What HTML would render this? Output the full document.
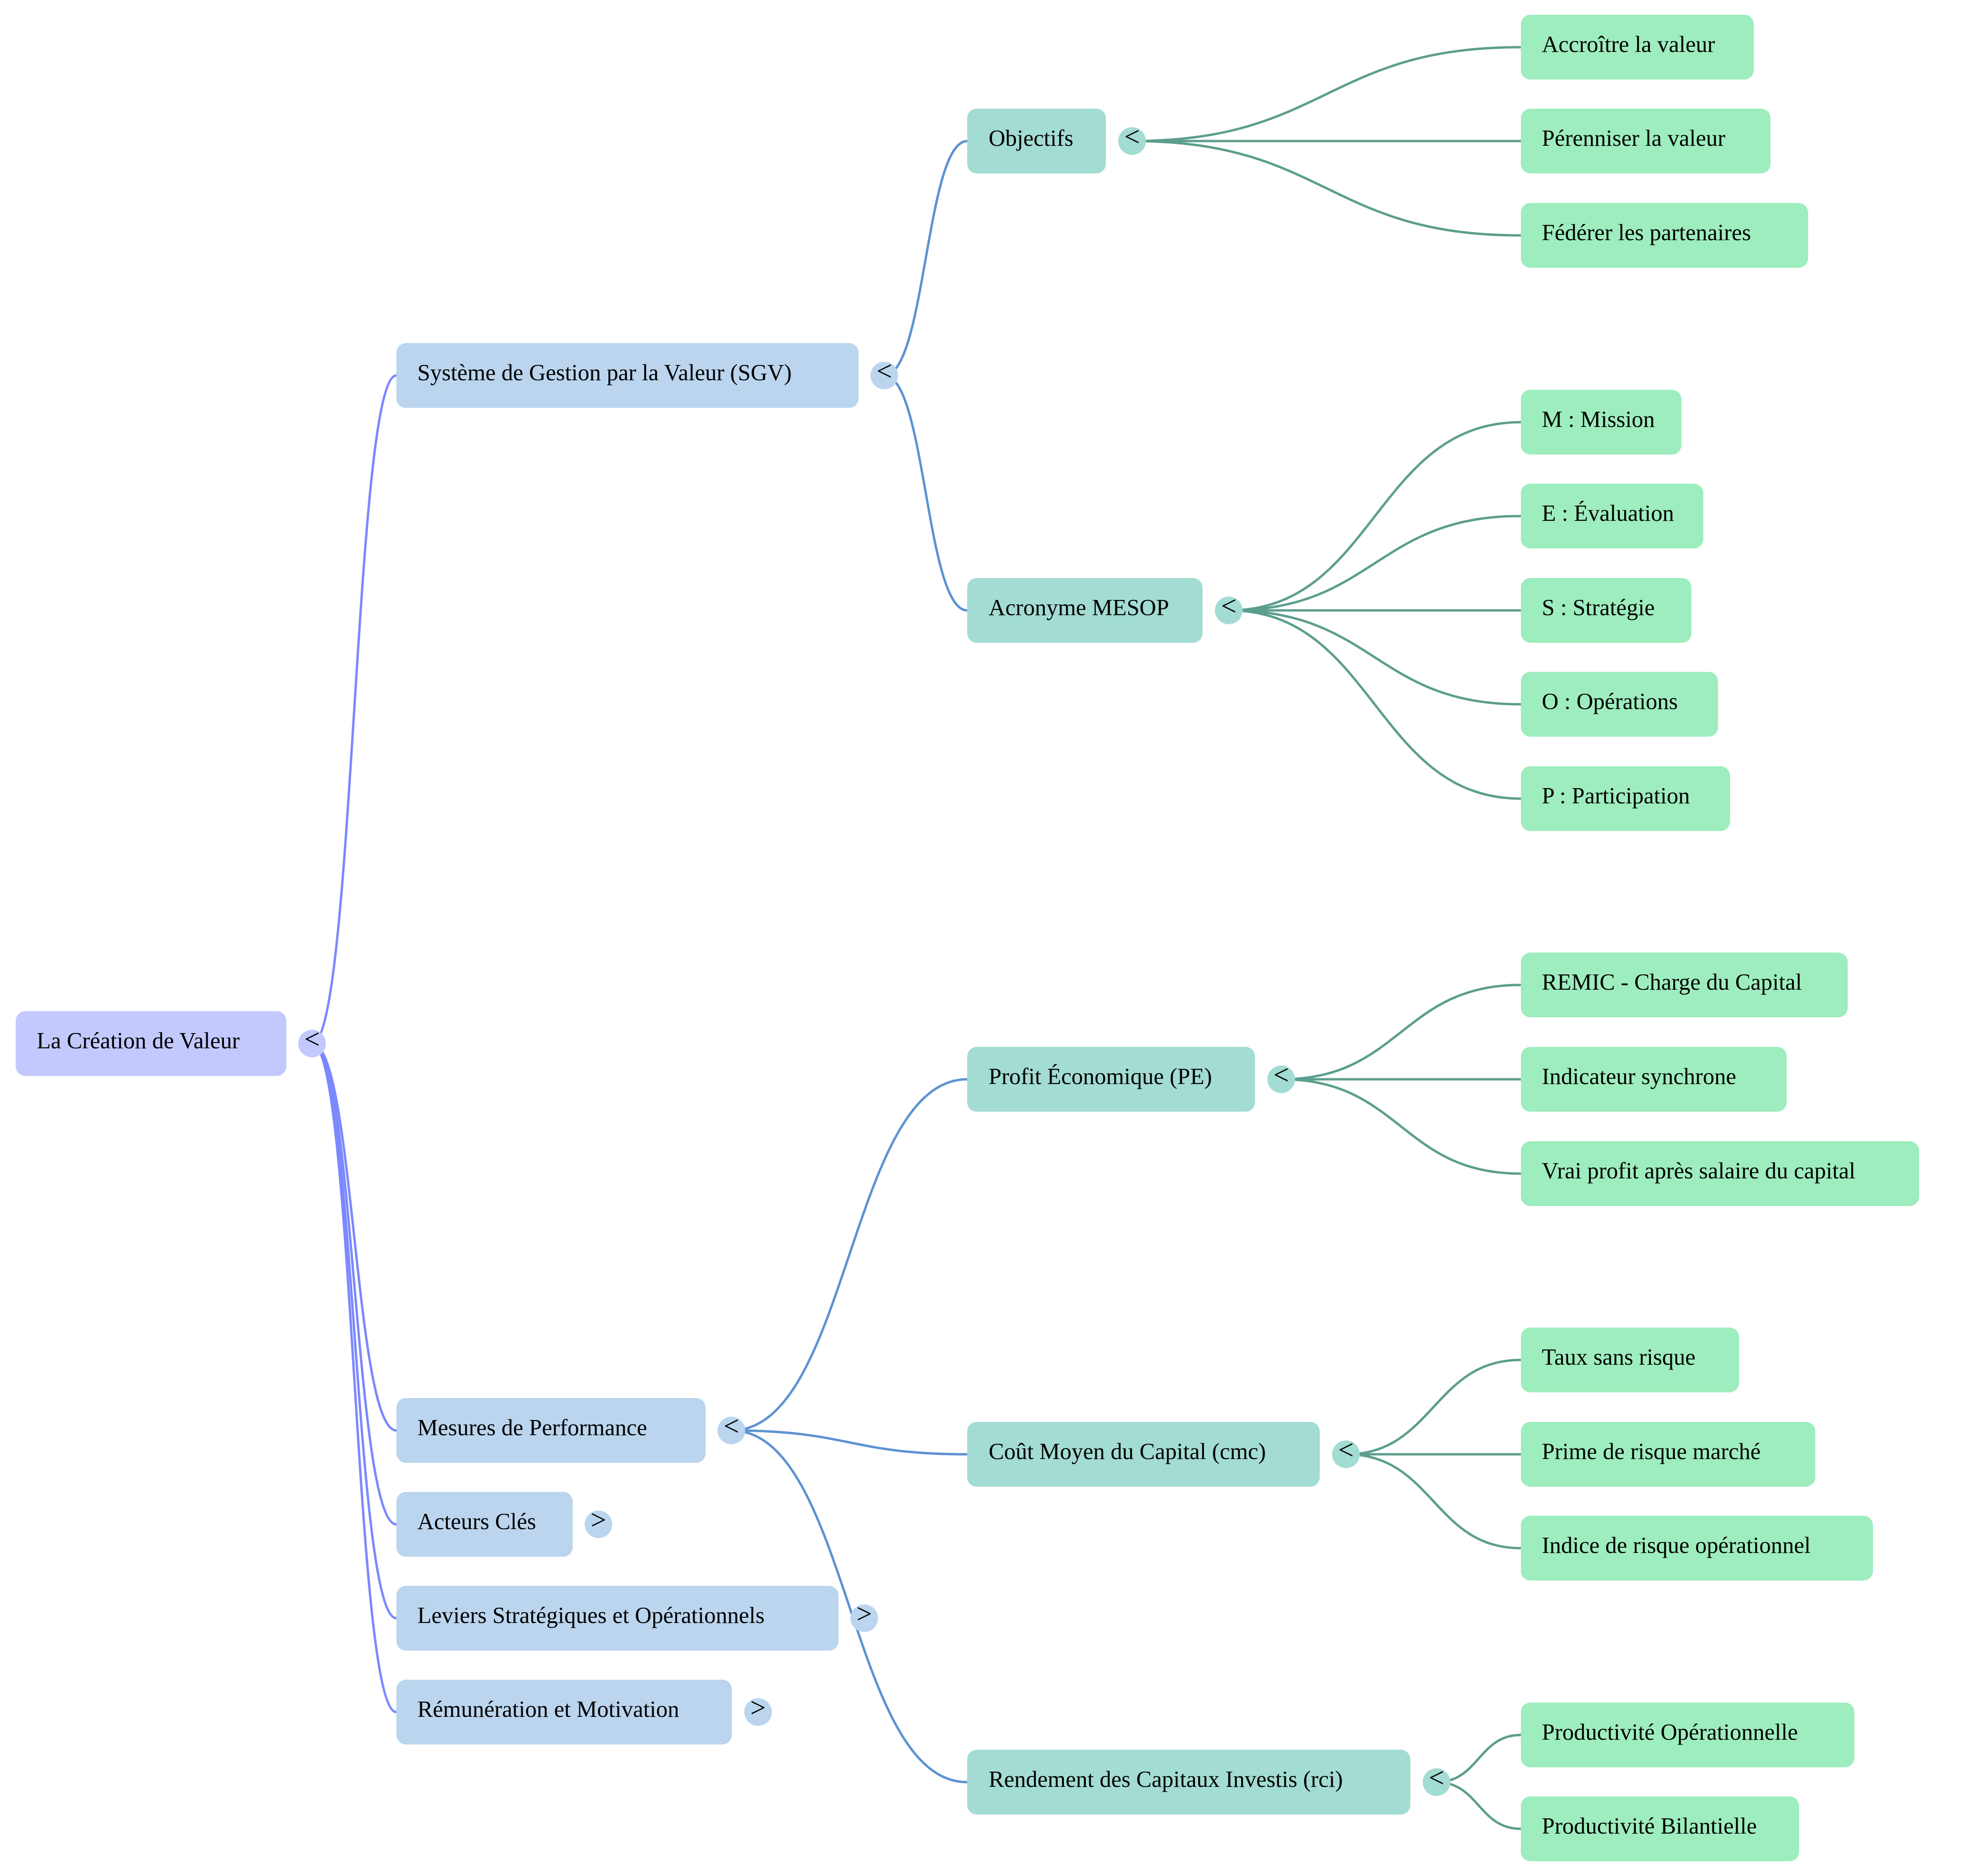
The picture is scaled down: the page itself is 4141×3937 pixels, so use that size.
<!DOCTYPE html>
<html>
<head>
<meta charset="utf-8">
<style>
html,body{margin:0;padding:0;background:#fff;}
svg{display:block;}
text{font-family:"Liberation Serif","Times New Roman",serif;font-size:48.5px;fill:#000;}
.t{font-size:58px;}
</style>
</head>
<body>
<svg width="4141" height="3937" viewBox="0 0 4141 3937" xmlns="http://www.w3.org/2000/svg">
<rect x="0" y="0" width="4141" height="3937" fill="#ffffff"/>

<!-- Root edges -->
<g fill="none" stroke="#7b88ff" stroke-width="5">
<path d="M655 2190 C743.5 2190,743.5 788,832 788"/>
<path d="M655 2190 C743.5 2190,743.5 3002,832 3002"/>
<path d="M655 2190 C743.5 2190,743.5 3199,832 3199"/>
<path d="M655 2190 C743.5 2190,743.5 3396,832 3396"/>
<path d="M655 2190 C743.5 2190,743.5 3593,832 3593"/>
</g>

<!-- Level 1 -> Level 2 edges -->
<g fill="none" stroke="#5d92d2" stroke-width="5">
<path d="M1856 788 C1943 788,1943 296,2030 296"/>
<path d="M1856 788 C1943 788,1943 1281,2030 1281"/>
<path d="M1535 3002 C1782.5 3002,1782.5 2265,2030 2265"/>
<path d="M1535 3002 C1782.5 3002,1782.5 3052,2030 3052"/>
<path d="M1535 3002 C1782.5 3002,1782.5 3740,2030 3740"/>
</g>

<!-- Level 2 -> Level 3 edges -->
<g fill="none" stroke="#5c9e8e" stroke-width="5">
<path d="M2376 296 C2784 296,2784 99,3192 99"/>
<path d="M2376 296 C2784 296,2784 296,3192 296"/>
<path d="M2376 296 C2784 296,2784 494,3192 494"/>

<path d="M2579 1281 C2885.5 1281,2885.5 886,3192 886"/>
<path d="M2579 1281 C2885.5 1281,2885.5 1083,3192 1083"/>
<path d="M2579 1281 C2885.5 1281,2885.5 1281,3192 1281"/>
<path d="M2579 1281 C2885.5 1281,2885.5 1478,3192 1478"/>
<path d="M2579 1281 C2885.5 1281,2885.5 1676,3192 1676"/>

<path d="M2689 2265 C2940.5 2265,2940.5 2067,3192 2067"/>
<path d="M2689 2265 C2940.5 2265,2940.5 2265,3192 2265"/>
<path d="M2689 2265 C2940.5 2265,2940.5 2463,3192 2463"/>

<path d="M2825 3052 C3008.5 3052,3008.5 2854,3192 2854"/>
<path d="M2825 3052 C3008.5 3052,3008.5 3052,3192 3052"/>
<path d="M2825 3052 C3008.5 3052,3008.5 3249,3192 3249"/>

<path d="M3015 3740 C3103.5 3740,3103.5 3641,3192 3641"/>
<path d="M3015 3740 C3103.5 3740,3103.5 3838,3192 3838"/>
</g>

<!-- Root node -->
<rect x="33" y="2122" width="568" height="136" rx="20" fill="#c3c9fe"/>
<text x="77" y="2200">La Création de Valeur</text>
<circle cx="655" cy="2190" r="29" fill="#c3c9fe"/>
<text class="t" x="655" y="2200" text-anchor="middle">&lt;</text>

<!-- Level 1 nodes -->
<g>
<rect x="832" y="720" width="970" height="136" rx="20" fill="#bbd5ef"/>
<text x="876" y="798">Système de Gestion par la Valeur (SGV)</text>
<circle cx="1856" cy="788" r="29" fill="#bbd5ef"/>
<text class="t" x="1856" y="798" text-anchor="middle">&lt;</text>

<rect x="832" y="2934" width="649" height="136" rx="20" fill="#bbd5ef"/>
<text x="876" y="3012">Mesures de Performance</text>
<circle cx="1535" cy="3002" r="29" fill="#bbd5ef"/>
<text class="t" x="1535" y="3012" text-anchor="middle">&lt;</text>

<rect x="832" y="3131" width="370" height="136" rx="20" fill="#bbd5ef"/>
<text x="876" y="3209">Acteurs Clés</text>
<circle cx="1256" cy="3199" r="29" fill="#bbd5ef"/>
<text class="t" x="1256" y="3209" text-anchor="middle">&gt;</text>

<rect x="832" y="3328" width="928" height="136" rx="20" fill="#bbd5ef"/>
<text x="876" y="3406">Leviers Stratégiques et Opérationnels</text>
<circle cx="1814" cy="3396" r="29" fill="#bbd5ef"/>
<text class="t" x="1814" y="3406" text-anchor="middle">&gt;</text>

<rect x="832" y="3525" width="704" height="136" rx="20" fill="#bbd5ef"/>
<text x="876" y="3603">Rémunération et Motivation</text>
<circle cx="1591" cy="3593" r="29" fill="#bbd5ef"/>
<text class="t" x="1591" y="3603" text-anchor="middle">&gt;</text>
</g>

<!-- Level 2 nodes -->
<g>
<rect x="2030" y="228" width="291" height="136" rx="20" fill="#a3dcd2"/>
<text x="2075" y="306">Objectifs</text>
<circle cx="2376" cy="296" r="29" fill="#a3dcd2"/>
<text class="t" x="2376" y="306" text-anchor="middle">&lt;</text>

<rect x="2030" y="1213" width="494" height="136" rx="20" fill="#a3dcd2"/>
<text x="2075" y="1291">Acronyme MESOP</text>
<circle cx="2579" cy="1281" r="29" fill="#a3dcd2"/>
<text class="t" x="2579" y="1291" text-anchor="middle">&lt;</text>

<rect x="2030" y="2197" width="604" height="136" rx="20" fill="#a3dcd2"/>
<text x="2075" y="2275">Profit Économique (PE)</text>
<circle cx="2689" cy="2265" r="29" fill="#a3dcd2"/>
<text class="t" x="2689" y="2275" text-anchor="middle">&lt;</text>

<rect x="2030" y="2984" width="740" height="136" rx="20" fill="#a3dcd2"/>
<text x="2075" y="3062">Coût Moyen du Capital (cmc)</text>
<circle cx="2825" cy="3052" r="29" fill="#a3dcd2"/>
<text class="t" x="2825" y="3062" text-anchor="middle">&lt;</text>

<rect x="2030" y="3672" width="930" height="136" rx="20" fill="#a3dcd2"/>
<text x="2075" y="3750">Rendement des Capitaux Investis (rci)</text>
<circle cx="3015" cy="3740" r="29" fill="#a3dcd2"/>
<text class="t" x="3015" y="3750" text-anchor="middle">&lt;</text>
</g>

<!-- Level 3 nodes -->
<g fill="#9eedbe">
<rect x="3192" y="31" width="489" height="136" rx="20"/>
<rect x="3192" y="228" width="524" height="136" rx="20"/>
<rect x="3192" y="426" width="603" height="136" rx="20"/>
<rect x="3192" y="818" width="337" height="136" rx="20"/>
<rect x="3192" y="1015" width="383" height="136" rx="20"/>
<rect x="3192" y="1213" width="358" height="136" rx="20"/>
<rect x="3192" y="1410" width="414" height="136" rx="20"/>
<rect x="3192" y="1608" width="439" height="136" rx="20"/>
<rect x="3192" y="1999" width="686" height="136" rx="20"/>
<rect x="3192" y="2197" width="558" height="136" rx="20"/>
<rect x="3192" y="2395" width="836" height="136" rx="20"/>
<rect x="3192" y="2786" width="458" height="136" rx="20"/>
<rect x="3192" y="2984" width="618" height="136" rx="20"/>
<rect x="3192" y="3181" width="739" height="136" rx="20"/>
<rect x="3192" y="3573" width="700" height="136" rx="20"/>
<rect x="3192" y="3770" width="584" height="136" rx="20"/>
</g>
<g>
<text x="3236" y="109">Accroître la valeur</text>
<text x="3236" y="306">Pérenniser la valeur</text>
<text x="3236" y="504">Fédérer les partenaires</text>
<text x="3236" y="896">M : Mission</text>
<text x="3236" y="1093">E : Évaluation</text>
<text x="3236" y="1291">S : Stratégie</text>
<text x="3236" y="1488">O : Opérations</text>
<text x="3236" y="1686">P : Participation</text>
<text x="3236" y="2077">REMIC - Charge du Capital</text>
<text x="3236" y="2275">Indicateur synchrone</text>
<text x="3236" y="2473">Vrai profit après salaire du capital</text>
<text x="3236" y="2864">Taux sans risque</text>
<text x="3236" y="3062">Prime de risque marché</text>
<text x="3236" y="3259">Indice de risque opérationnel</text>
<text x="3236" y="3651">Productivité Opérationnelle</text>
<text x="3236" y="3848">Productivité Bilantielle</text>
</g>
</svg>
</body>
</html>
